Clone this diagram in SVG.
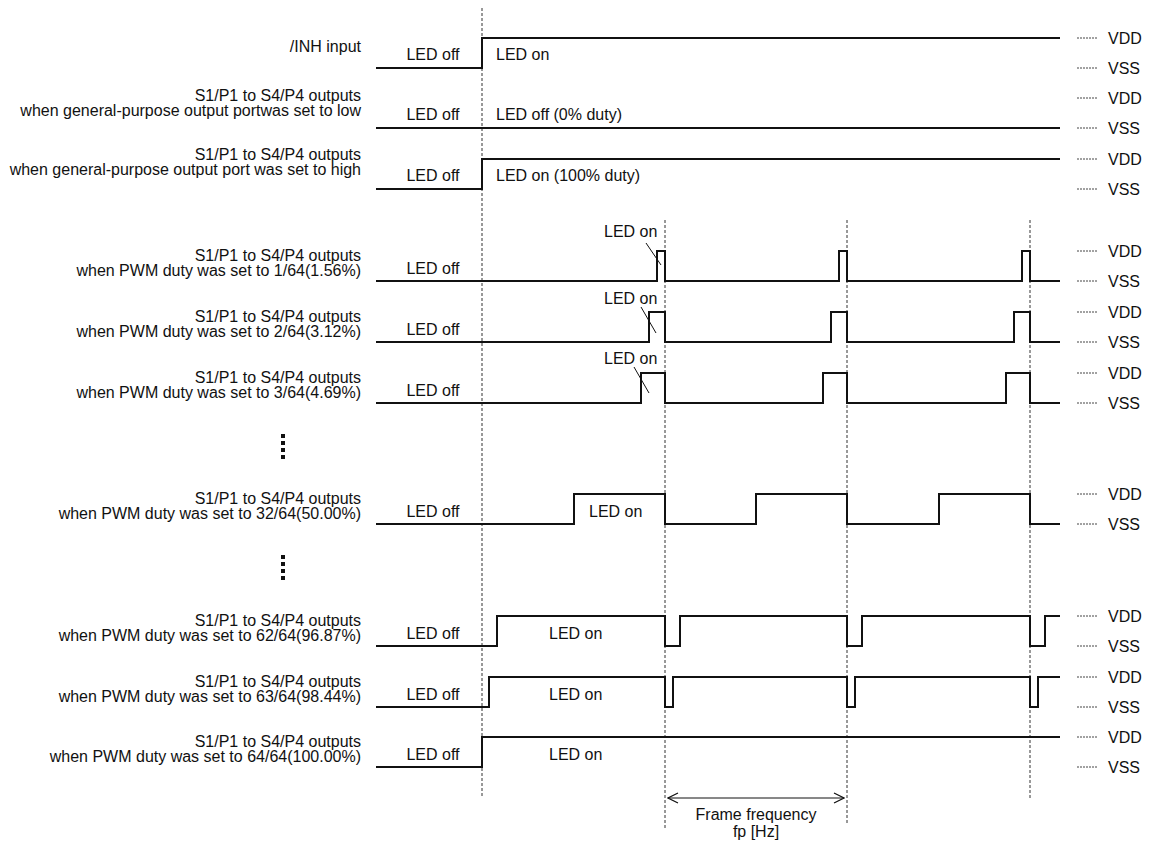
<svg xmlns="http://www.w3.org/2000/svg" width="1156" height="843" viewBox="0 0 1156 843">
<style>
text{font-family:"Liberation Sans",Arial,sans-serif;font-size:16px;fill:#111}
.r{text-anchor:end}
.m{text-anchor:middle}
.w{fill:none;stroke:#111;stroke-width:2;stroke-linejoin:miter}
.g{fill:none;stroke:#333;stroke-width:1;stroke-dasharray:3 2}
.lv{fill:none;stroke:#444;stroke-width:1;stroke-dasharray:2 1}
.ld{fill:none;stroke:#111;stroke-width:1}
.dots{fill:none;stroke:#111;stroke-width:4;stroke-dasharray:4 3}
</style>
<defs>
<marker id="ah" viewBox="0 0 12 12" refX="11" refY="6" markerWidth="12" markerHeight="12" markerUnits="userSpaceOnUse" orient="auto-start-reverse">
<polyline points="1,1 11,6 1,11" fill="none" stroke="#111" stroke-width="1.2"/>
</marker>
</defs>
<rect width="1156" height="843" fill="#fff"/>
<g id="connectors">
<line class="g" x1="482" y1="8" x2="482" y2="798"/>
<line class="g" x1="665" y1="220" x2="665" y2="828"/>
<line class="g" x1="847" y1="220" x2="847" y2="823"/>
<line class="g" x1="1030" y1="220" x2="1030" y2="798"/>
<line class="ld" x1="668" y1="798" x2="844" y2="798" marker-start="url(#ah)" marker-end="url(#ah)"/>
</g>
<g id="levels">
<path class="lv" d="M1077,38H1098M1077,68H1098M1077,98H1098M1077,128H1098M1077,159H1098M1077,189H1098M1077,251H1098M1077,281H1098M1077,312H1098M1077,342H1098M1077,373H1098M1077,403H1098M1077,494H1098M1077,524H1098M1077,616H1098M1077,646H1098M1077,677H1098M1077,707H1098M1077,737H1098M1077,767H1098"/>
<text x="1108" y="44">VDD</text><text x="1108" y="74">VSS</text>
<text x="1108" y="104">VDD</text><text x="1108" y="134">VSS</text>
<text x="1108" y="165">VDD</text><text x="1108" y="195">VSS</text>
<text x="1108" y="257">VDD</text><text x="1108" y="287">VSS</text>
<text x="1108" y="318">VDD</text><text x="1108" y="348">VSS</text>
<text x="1108" y="379">VDD</text><text x="1108" y="409">VSS</text>
<text x="1108" y="500">VDD</text><text x="1108" y="530">VSS</text>
<text x="1108" y="622">VDD</text><text x="1108" y="652">VSS</text>
<text x="1108" y="683">VDD</text><text x="1108" y="713">VSS</text>
<text x="1108" y="743">VDD</text><text x="1108" y="773">VSS</text>
</g>
<g id="row-inh">
<text class="r" x="361" y="52">/INH input</text>
<text class="m" x="433" y="60">LED off</text>
<text x="496" y="60">LED on</text>
<path class="w" d="M376,68H482V38H1060"/>
</g>
<g id="row-gp-low">
<text class="r" x="361" y="101">S1/P1 to S4/P4 outputs</text>
<text class="r" x="361" y="116">when general-purpose output portwas set to low</text>
<text class="m" x="433" y="120">LED off</text>
<text x="496" y="120">LED off (0% duty)</text>
<path class="w" d="M376,128H1060"/>
</g>
<g id="row-gp-high">
<text class="r" x="361" y="160">S1/P1 to S4/P4 outputs</text>
<text class="r" x="361" y="175">when general-purpose output port was set to high</text>
<text class="m" x="433" y="181">LED off</text>
<text x="496" y="181">LED on (100% duty)</text>
<path class="w" d="M376,189H482V159H1060"/>
</g>
<g id="row-pwm-1">
<text class="r" x="361" y="261">S1/P1 to S4/P4 outputs</text>
<text class="r" x="361" y="276">when PWM duty was set to 1/64(1.56%)</text>
<text class="m" x="433" y="274">LED off</text>
<text x="604" y="237">LED on</text>
<line class="ld" x1="646" y1="243" x2="661" y2="265"/>
<path class="w" d="M376,281H657V251H665V281H839V251H847V281H1022V251H1030V281H1060"/>
</g>
<g id="row-pwm-2">
<text class="r" x="361" y="322">S1/P1 to S4/P4 outputs</text>
<text class="r" x="361" y="337">when PWM duty was set to 2/64(3.12%)</text>
<text class="m" x="433" y="335">LED off</text>
<text x="604" y="304">LED on</text>
<line class="ld" x1="641" y1="307" x2="656" y2="333"/>
<path class="w" d="M376,342H649V312H665V342H831V312H847V342H1014V312H1030V342H1060"/>
</g>
<g id="row-pwm-3">
<text class="r" x="361" y="383">S1/P1 to S4/P4 outputs</text>
<text class="r" x="361" y="398">when PWM duty was set to 3/64(4.69%)</text>
<text class="m" x="433" y="396">LED off</text>
<text x="604" y="364">LED on</text>
<line class="ld" x1="634" y1="367" x2="649" y2="393"/>
<path class="w" d="M376,403H641V373H665V403H823V373H847V403H1006V373H1030V403H1060"/>
</g>
<g id="ellipsis-1"><line class="dots" x1="283" y1="434" x2="283" y2="461"/></g>
<g id="row-pwm-32">
<text class="r" x="361" y="504">S1/P1 to S4/P4 outputs</text>
<text class="r" x="361" y="519">when PWM duty was set to 32/64(50.00%)</text>
<text class="m" x="433" y="517">LED off</text>
<text x="589" y="517">LED on</text>
<path class="w" d="M376,524H574V494H665V524H756V494H847V524H939V494H1030V524H1060"/>
</g>
<g id="ellipsis-2"><line class="dots" x1="283" y1="555" x2="283" y2="582"/></g>
<g id="row-pwm-62">
<text class="r" x="361" y="626">S1/P1 to S4/P4 outputs</text>
<text class="r" x="361" y="641">when PWM duty was set to 62/64(96.87%)</text>
<text class="m" x="433" y="639">LED off</text>
<text x="549" y="639">LED on</text>
<path class="w" d="M376,646H497V616H665V646H680V616H847V646H862V616H1030V646H1045V616H1060"/>
</g>
<g id="row-pwm-63">
<text class="r" x="361" y="687">S1/P1 to S4/P4 outputs</text>
<text class="r" x="361" y="702">when PWM duty was set to 63/64(98.44%)</text>
<text class="m" x="433" y="700">LED off</text>
<text x="549" y="700">LED on</text>
<path class="w" d="M376,707H489V677H665V707H673V677H847V707H855V677H1030V707H1038V677H1060"/>
</g>
<g id="row-pwm-64">
<text class="r" x="361" y="747">S1/P1 to S4/P4 outputs</text>
<text class="r" x="361" y="762">when PWM duty was set to 64/64(100.00%)</text>
<text class="m" x="433" y="760">LED off</text>
<text x="549" y="760">LED on</text>
<path class="w" d="M376,767H482V737H1060"/>
</g>
<g id="frame-label">
<text class="m" x="756" y="820">Frame frequency</text>
<text class="m" x="756" y="837">fp [Hz]</text>
</g>
</svg>
